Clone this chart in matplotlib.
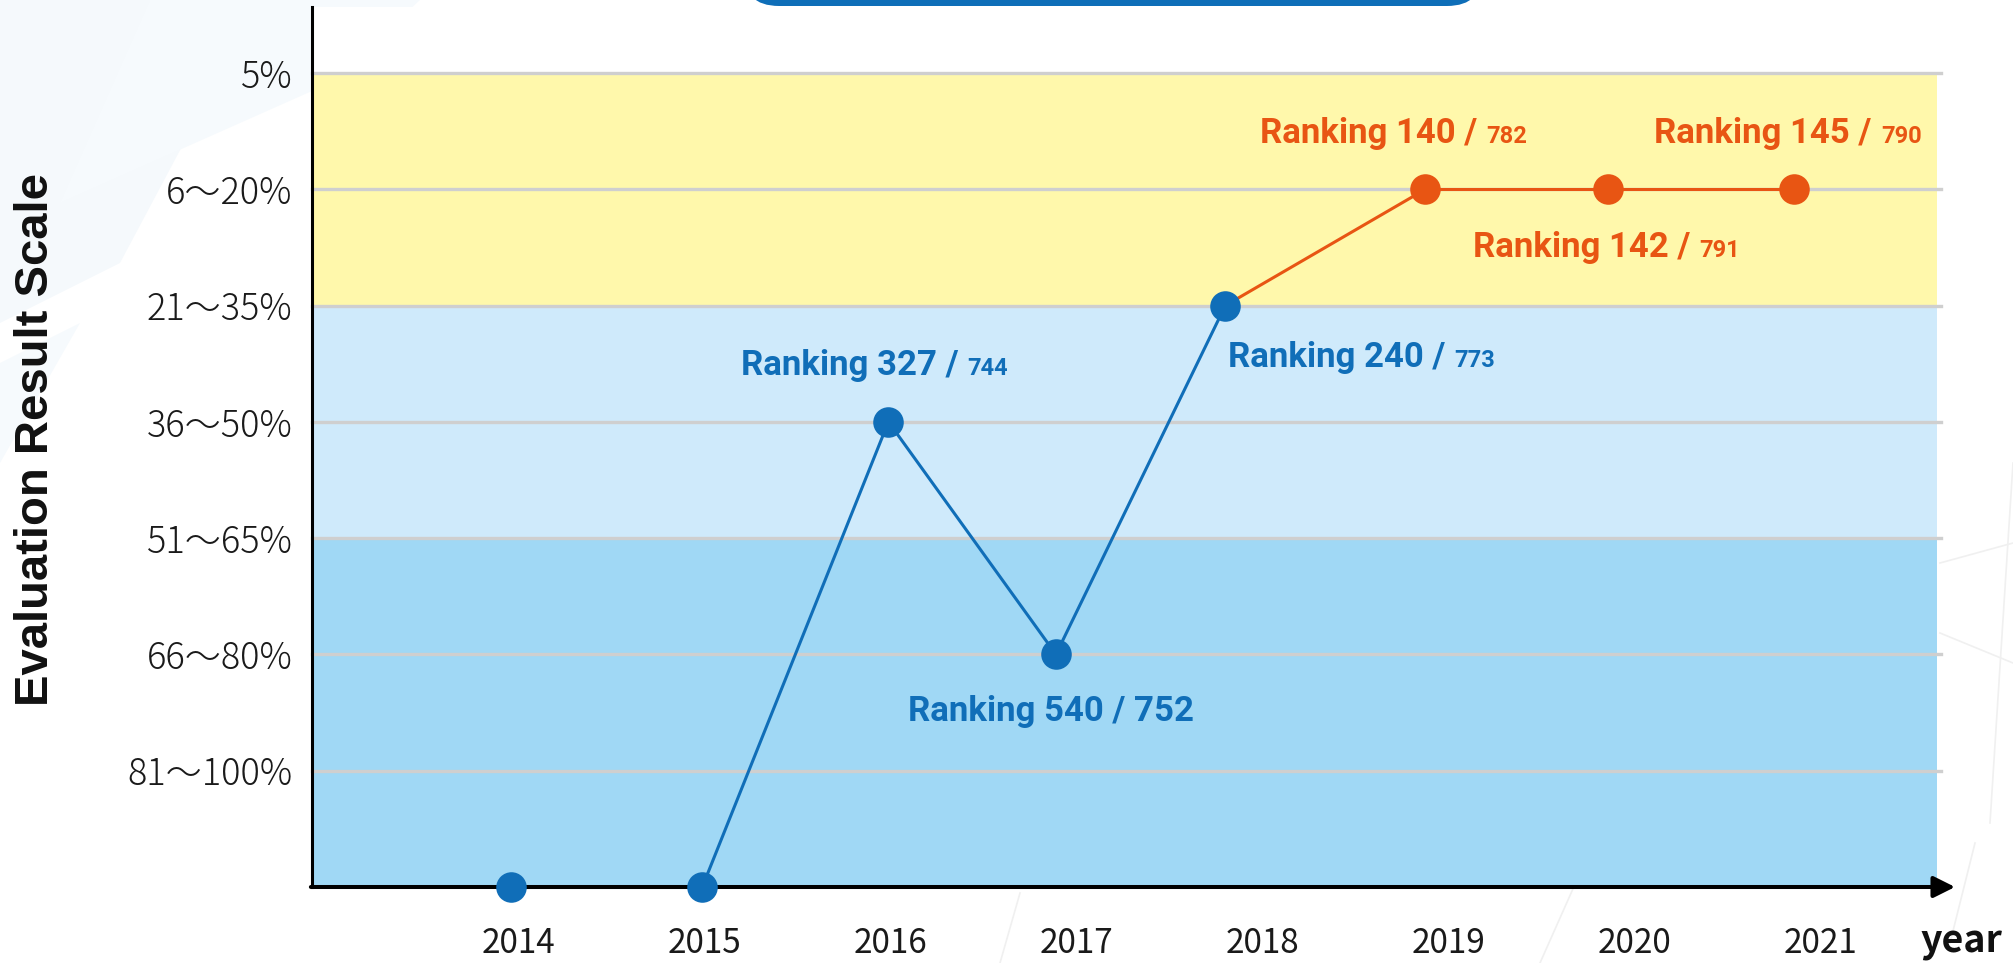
import matplotlib
matplotlib.use('Agg')
import matplotlib.pyplot as plt
from matplotlib import transforms
from matplotlib.patches import FancyBboxPatch, Polygon
from matplotlib.lines import Line2D

# ---------------- data ----------------
years = [2014, 2015, 2016, 2017, 2018, 2019, 2020, 2021]
year_labels = [str(y) for y in years]
# x positions of the points (slightly off the tick labels)
x_pos = [2013.96, 2014.99, 2015.99, 2016.89, 2017.80, 2018.875, 2019.855, 2020.855]
scale_level = [0, 0, 4, 2, 5, 6, 6, 6]
scale_ticks = [1, 2, 3, 4, 5, 6, 7]
scale_labels = ["81～100%", "66～80%", "51～65%", "36～50%", "21～35%", "6～20%", "5%"]
rank = [None, None, 327, 540, 240, 140, 142, 145]
total = [None, None, 744, 752, 773, 782, 791, 790]
series = ['blue', 'blue', 'blue', 'blue', 'blue', 'orange', 'orange', 'orange']
bands = [(0, 3, '#A0D8F5'), (3, 5, '#CFEAFB'), (5, 7, '#FFF8AB')]

colors = {'blue': '#106EB8', 'orange': '#E85513'}

# ---------------- figure ----------------
W, H, DPI = 2013, 963, 100
fig = plt.figure(figsize=(W / DPI, H / DPI), dpi=DPI)
fig.patch.set_facecolor('white')
px = transforms.IdentityTransform()

# faint background watermark
for pts, col in [
    ([(0, 963), (260, 963), (120, 700), (0, 640)], '#F5F9FC'),
    ([(150, 963), (420, 963), (330, 880), (60, 760)], '#F6FAFD'),
    ([(0, 600), (80, 640), (0, 500)], '#F6FAFD'),
]:
    fig.patches.append(Polygon(pts, closed=True, transform=px, fc=col, ec='none', zorder=-5))
for (x0, y0, x1, y1) in [(1940, 400, 2013, 420), (1940, 330, 2013, 300), (1990, 140, 2013, 500),
                         (1950, 20, 1975, 120), (1000, 0, 1020, 70), (1540, 0, 1580, 90)]:
    fig.lines.append(Line2D([x0, x1], [y0, y1], transform=px, color='#F0F0F0', lw=1.2, zorder=-5))

# title box (cut by the top edge)
fig.patches.append(FancyBboxPatch((743, 957), 740, 90,
                                  boxstyle='round,pad=0,rounding_size=36',
                                  transform=px, fc='#0E6EB8', ec='none', zorder=1))

ax_left, ax_right, ax_bottom, ax_top = 312, 1937, 887, 7
ax = fig.add_axes([ax_left / W, (H - ax_bottom) / H,
                   (ax_right - ax_left) / W, (ax_bottom - ax_top) / H])
ax.set_facecolor('white')

ax.set_xlim(2014 + (312 - 518) / 186.14, 2014 + (1937 - 518) / 186.14)
ax.set_ylim(0, (887 - 7) / 116.29)

for lo, hi, c in bands:
    ax.axhspan(lo, hi, color=c, lw=0, zorder=0)
for t in scale_ticks:
    ax.axhline(t, xmin=0, xmax=1.0025, color='#CFCFCF', lw=2.4, zorder=1, clip_on=False)

# line segments coloured by the series of the end point
for i in range(len(x_pos) - 1):
    ax.plot(x_pos[i:i + 2], scale_level[i:i + 2], color=colors[series[i + 1]],
            lw=2.2, zorder=3, solid_capstyle='butt', clip_on=False)
for i in range(len(x_pos)):
    ax.plot(x_pos[i], scale_level[i], 'o', ms=22, color=colors[series[i]],
            mec='none', zorder=6, clip_on=False)

# spines
for s in ['top', 'right', 'bottom']:
    ax.spines[s].set_visible(False)
ax.spines['left'].set_linewidth(2.2)
ax.spines['left'].set_color('black')

ax.annotate('', xy=(1.0111, 0), xycoords='axes fraction',
            xytext=(-0.0007, 0), textcoords='axes fraction',
            arrowprops=dict(arrowstyle='-|>,head_length=1.0,head_width=0.5',
                            mutation_scale=13, lw=2.9, color='black',
                            shrinkA=0, shrinkB=0),
            annotation_clip=False, zorder=5)

cjk = ['Noto Sans CJK JP', 'DejaVu Sans']
ax.set_yticks(scale_ticks, scale_labels)
ax.set_xticks(years, year_labels)
for lab in ax.get_yticklabels():
    lab.set_family(cjk)
    lab.set_fontsize(26)
    lab.set_fontweight('light')
    lab.set_color('#1A1A1A')
for lab in ax.get_xticklabels():
    lab.set_family(cjk)
    lab.set_fontsize(24)
    lab.set_color('#1A1A1A')
ax.tick_params(axis='y', length=0, pad=14)
ax.tick_params(axis='x', length=0, pad=28)

fig.text(36 / W, 1 - 440 / H, 'Evaluation Result Scale', rotation=90,
         ha='center', va='center', fontsize=34, fontweight='bold',
         family=['Liberation Sans', 'DejaVu Sans'], color='#111111')
fig.text(1961 / W, (H - 952) / H, 'year', ha='center', va='baseline',
         fontsize=27, fontweight='bold', family=cjk, color='#111111')

# ---------------- ranking labels ----------------
fig.canvas.draw()
renderer = fig.canvas.get_renderer()
ann_family = ['Roboto', 'DejaVu Sans']
# index: (anchor, dx px, dy px, small denominator)
label_style = {2: ('center', -14, 47, True), 3: ('center', -5, -67, False),
               4: ('left', 3, -61, True), 5: ('center', -32, 46, True),
               6: ('center', -1, -68, True), 7: ('center', -6, 46, True)}
for i, (mode, dx, dy, small) in label_style.items():
    c = colors[series[i]]
    if small:
        main, sub = f"Ranking {rank[i]} /", f"{total[i]}"
    else:
        main, sub = f"Ranking {rank[i]} / {total[i]}", None
    t1 = ax.text(x_pos[i], scale_level[i], main, ha='left', va='baseline',
                 fontsize=25, fontweight='bold', color=c, family=ann_family,
                 zorder=7, clip_on=False)
    w1 = t1.get_window_extent(renderer).width
    w2, gap, t2 = 0, 0, None
    if sub:
        t2 = ax.text(x_pos[i], scale_level[i], sub, ha='left', va='baseline',
                     fontsize=17, fontweight='bold', color=c, family=ann_family,
                     zorder=7, clip_on=False)
        w2 = t2.get_window_extent(renderer).width
        gap = 9
    tw = w1 + gap + w2
    left = dx - tw / 2 if mode == 'center' else dx
    t1.set_transform(transforms.offset_copy(ax.transData, fig=fig, x=left, y=dy, units='dots'))
    if t2 is not None:
        t2.set_transform(transforms.offset_copy(ax.transData, fig=fig,
                                                x=left + w1 + gap, y=dy, units='dots'))

fig.savefig('out.png', dpi=DPI)
